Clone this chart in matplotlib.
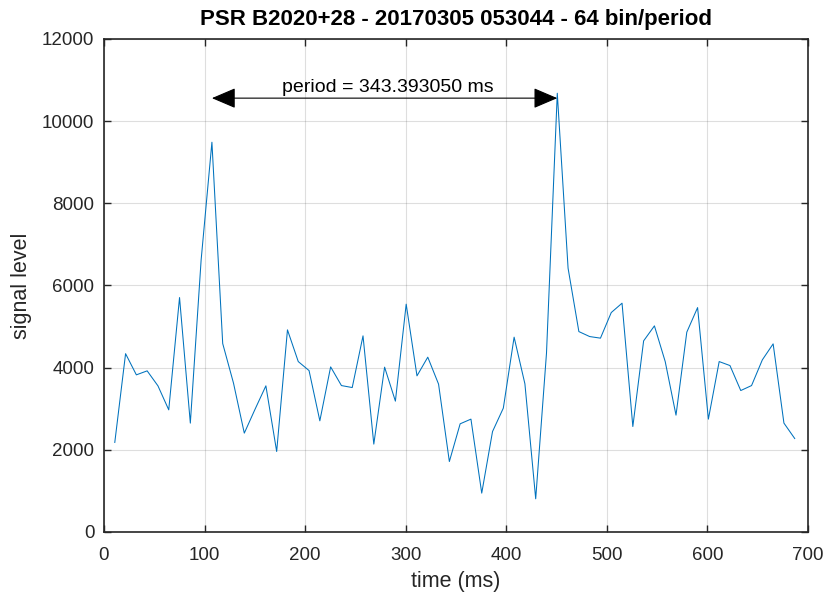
import numpy as np
import matplotlib
matplotlib.use("Agg")
import matplotlib.pyplot as plt

plt.rcParams['font.family'] = ['Liberation Sans', 'DejaVu Sans']

psr = "PSR B2020+28"
obs = "20170305 053044"
nbins = 64
period = 343.393050  # ms

# folded profile, two periods of 32 samples each
signal = [2180, 4340, 3825, 3922, 3557, 2973, 5706, 2650, 6620, 9487,
          4586, 3623, 2406, 2990, 3557, 1959, 4920, 4148, 3929, 2706,
          4019, 3564, 3516, 4774, 2139, 4012, 3185, 5545, 3800, 4255,
          3599, 1715, 2633, 2747, 946, 2445, 3015, 4742, 3606, 808,
          4353, 10679, 6421, 4878, 4757, 4718, 5341, 5569, 2567, 4652,
          5017, 4148, 2844, 4864, 5462, 2747, 4148, 4051, 3443, 3564,
          4190, 4579, 2650, 2275]
t = (np.arange(len(signal)) + 1) * period / 32

peak1 = 9
peak2 = 41
arrow_y = 10560

fig = plt.figure(figsize=(8.24, 5.96), dpi=100)
ax = fig.add_axes([0.1262, 0.1074, 0.8544, 0.8272])

ax.plot(t, signal, color='#0072BD', lw=0.75)

ax.annotate('', xy=(t[peak2], arrow_y), xytext=(t[peak1], arrow_y),
            arrowprops=dict(arrowstyle='<|-|>,head_length=0.75,head_width=0.32',
                            color='k', lw=0.8, mutation_scale=20,
                            shrinkA=0, shrinkB=0))
ax.text((t[peak1] + t[peak2]) / 2 + 3, arrow_y + 60,
        'period = %f ms' % period, ha='center', va='bottom', fontsize=14)

ax.set_xlim(0, 700)
ax.set_ylim(0, 12000)
ax.set_xticks(np.arange(0, 701, 100))
ax.set_yticks(np.arange(0, 12001, 2000))
ax.grid(True, color='#262626', alpha=0.15, lw=0.8)
ax.tick_params(direction='in', length=5, width=1.0, colors='#262626',
               labelsize=13.5, top=True, right=True)
ax.tick_params(axis='x', pad=11)
ax.tick_params(axis='y', pad=7)
for s in ax.spines.values():
    s.set_color('#262626')
    s.set_linewidth(1.2)

ax.set_xlabel('time (ms)', fontsize=15.5, color='#262626', labelpad=5)
ax.set_ylabel('signal level', fontsize=15.5, color='#262626', labelpad=7)
ax.set_title('%s - %s - %d bin/period' % (psr, obs, nbins),
             fontsize=16, fontweight='bold', color='k', pad=10)

fig.savefig('out.png', dpi=100)
